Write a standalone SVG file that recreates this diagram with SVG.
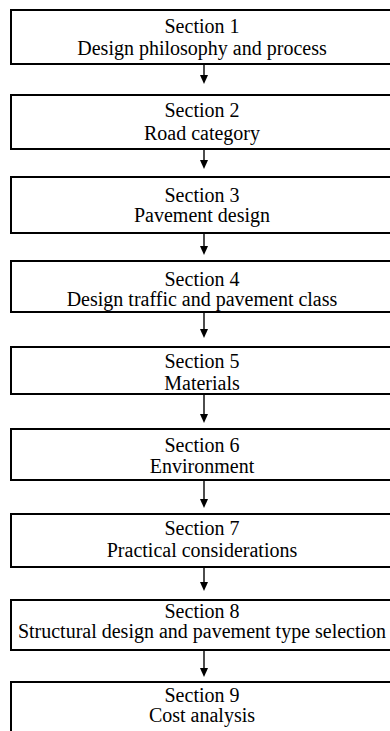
<svg xmlns="http://www.w3.org/2000/svg" width="390" height="731" viewBox="0 0 390 731">
  <style>
    .box { fill: #ffffff; stroke: #000000; stroke-width: 2; }
    .lbl { font-family: "Liberation Serif", "Times New Roman", serif; font-size: 20px; fill: #000000; text-anchor: middle; }
    .wire { stroke: #000000; stroke-width: 1.4; fill: none; }
    .tip { fill: #000000; }
  </style>
  <rect width="390" height="731" fill="#ffffff"/>

  <g id="connectors">
    <line class="wire" x1="204" y1="65" x2="204" y2="77"/>
    <line class="wire" x1="204" y1="150" x2="204" y2="162"/>
    <line class="wire" x1="204" y1="234" x2="204" y2="248"/>
    <line class="wire" x1="204" y1="313" x2="204" y2="331"/>
    <line class="wire" x1="204" y1="395" x2="204" y2="416"/>
    <line class="wire" x1="204" y1="481" x2="204" y2="501"/>
    <line class="wire" x1="204" y1="568" x2="204" y2="584"/>
    <line class="wire" x1="204" y1="651" x2="204" y2="670"/>
    <!-- arrowheads -->
    <path class="tip" d="M200,75 L208,75 L204,84 Z"/>
    <path class="tip" d="M200,160 L208,160 L204,169 Z"/>
    <path class="tip" d="M200,246 L208,246 L204,255 Z"/>
    <path class="tip" d="M200,329 L208,329 L204,338 Z"/>
    <path class="tip" d="M200,414 L208,414 L204,423 Z"/>
    <path class="tip" d="M200,499 L208,499 L204,508 Z"/>
    <path class="tip" d="M200,582 L208,582 L204,591 Z"/>
    <path class="tip" d="M200,668 L208,668 L204,677 Z"/>
  </g>

  <g id="s1"><rect class="box" x="11" y="10" width="384" height="54"/>
    <text class="lbl" x="202" y="33">Section 1</text>
    <text class="lbl" x="202" y="55">Design philosophy and process</text></g>
  <g id="s2"><rect class="box" x="11" y="95" width="384" height="54"/>
    <text class="lbl" x="202" y="117">Section 2</text>
    <text class="lbl" x="202" y="140">Road category</text></g>
  <g id="s3"><rect class="box" x="11" y="177" width="384" height="56"/>
    <text class="lbl" x="202" y="202">Section 3</text>
    <text class="lbl" x="202" y="222">Pavement design</text></g>
  <g id="s4"><rect class="box" x="11" y="261" width="384" height="51"/>
    <text class="lbl" x="202" y="286">Section 4</text>
    <text class="lbl" x="202" y="306">Design traffic and pavement class</text></g>
  <g id="s5"><rect class="box" x="11" y="347" width="384" height="47"/>
    <text class="lbl" x="202" y="368">Section 5</text>
    <text class="lbl" x="202" y="390">Materials</text></g>
  <g id="s6"><rect class="box" x="11" y="429" width="384" height="51"/>
    <text class="lbl" x="202" y="452">Section 6</text>
    <text class="lbl" x="202" y="473">Environment</text></g>
  <g id="s7"><rect class="box" x="11" y="514" width="384" height="53"/>
    <text class="lbl" x="202" y="535">Section 7</text>
    <text class="lbl" x="202" y="557">Practical considerations</text></g>
  <g id="s8"><rect class="box" x="11" y="600" width="384" height="50"/>
    <text class="lbl" x="202" y="618">Section 8</text>
    <text class="lbl" x="202" y="638">Structural design and pavement type selection</text></g>
  <g id="s9"><rect class="box" x="11" y="682" width="384" height="60"/>
    <text class="lbl" x="202" y="702">Section 9</text>
    <text class="lbl" x="202" y="722">Cost analysis</text></g>
</svg>
